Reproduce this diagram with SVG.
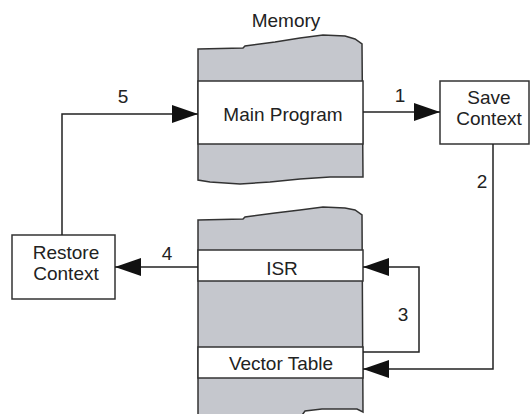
<svg xmlns="http://www.w3.org/2000/svg" width="530" height="414" viewBox="0 0 530 414">
<style>
text{font-family:"Liberation Sans",Arial,sans-serif;font-size:19px;fill:#222;text-anchor:middle}
.mem{fill:#c5c7cd;stroke:#333;stroke-width:1.5}
.band{fill:#fff;stroke:#333;stroke-width:1.5}
.box{fill:#fff;stroke:#333;stroke-width:1.5}
.wire{fill:none;stroke:#222;stroke-width:1.5}
</style>
<defs>
<marker id="ah" viewBox="0 0 26 18" refX="26" refY="9" markerWidth="26" markerHeight="18" markerUnits="userSpaceOnUse" orient="auto">
<path d="M0,0 L26,9 L0,18 z" fill="#111"/>
</marker>
</defs>
<text x="286" y="27">Memory</text>
<g id="memory-top">
<path class="mem" d="M198,49 L243,48 L245,46 L275,42 L300,38 L323,35 L345,36 L355,39 L362,44 L363,177 L330,177 L300,179 L270,182 L240,184 L210,182 L198,180 Z"/>
<rect class="band" x="198" y="81" width="165" height="63"/>
<text x="283" y="121">Main Program</text>
</g>
<g id="memory-bottom">
<path class="mem" d="M198,220 L243,219 L245,217 L275,213 L300,210 L323,207 L345,208 L355,210 L362,215 L363,412 L357,409 L322,409 L305,411 L300,418 L198,418 Z"/>
<rect class="band" x="198" y="250" width="165" height="31"/>
<text x="282" y="275">ISR</text>
<rect class="band" x="198" y="347" width="165" height="31"/>
<text x="281" y="370">Vector Table</text>
</g>
<g id="save-context">
<rect class="box" x="440" y="81" width="89" height="63"/>
<text x="489" y="104">Save</text>
<text x="489" y="125">Context</text>
</g>
<g id="restore-context">
<rect class="box" x="12" y="235" width="103" height="64"/>
<text x="66" y="259">Restore</text>
<text x="66" y="280">Context</text>
</g>
<g id="connectors">
<path class="wire" d="M363,112 H440" marker-end="url(#ah)"/>
<path class="wire" d="M493,144 V369 H363" marker-end="url(#ah)"/>
<path class="wire" d="M363,352 H419 V267 H363" marker-end="url(#ah)"/>
<path class="wire" d="M198,267 H115" marker-end="url(#ah)"/>
<path class="wire" d="M62,235 V114 H198" marker-end="url(#ah)"/>
<text x="400" y="102">1</text>
<text x="482" y="188">2</text>
<text x="403" y="321">3</text>
<text x="167" y="260">4</text>
<text x="123" y="103">5</text>
</g>
</svg>
